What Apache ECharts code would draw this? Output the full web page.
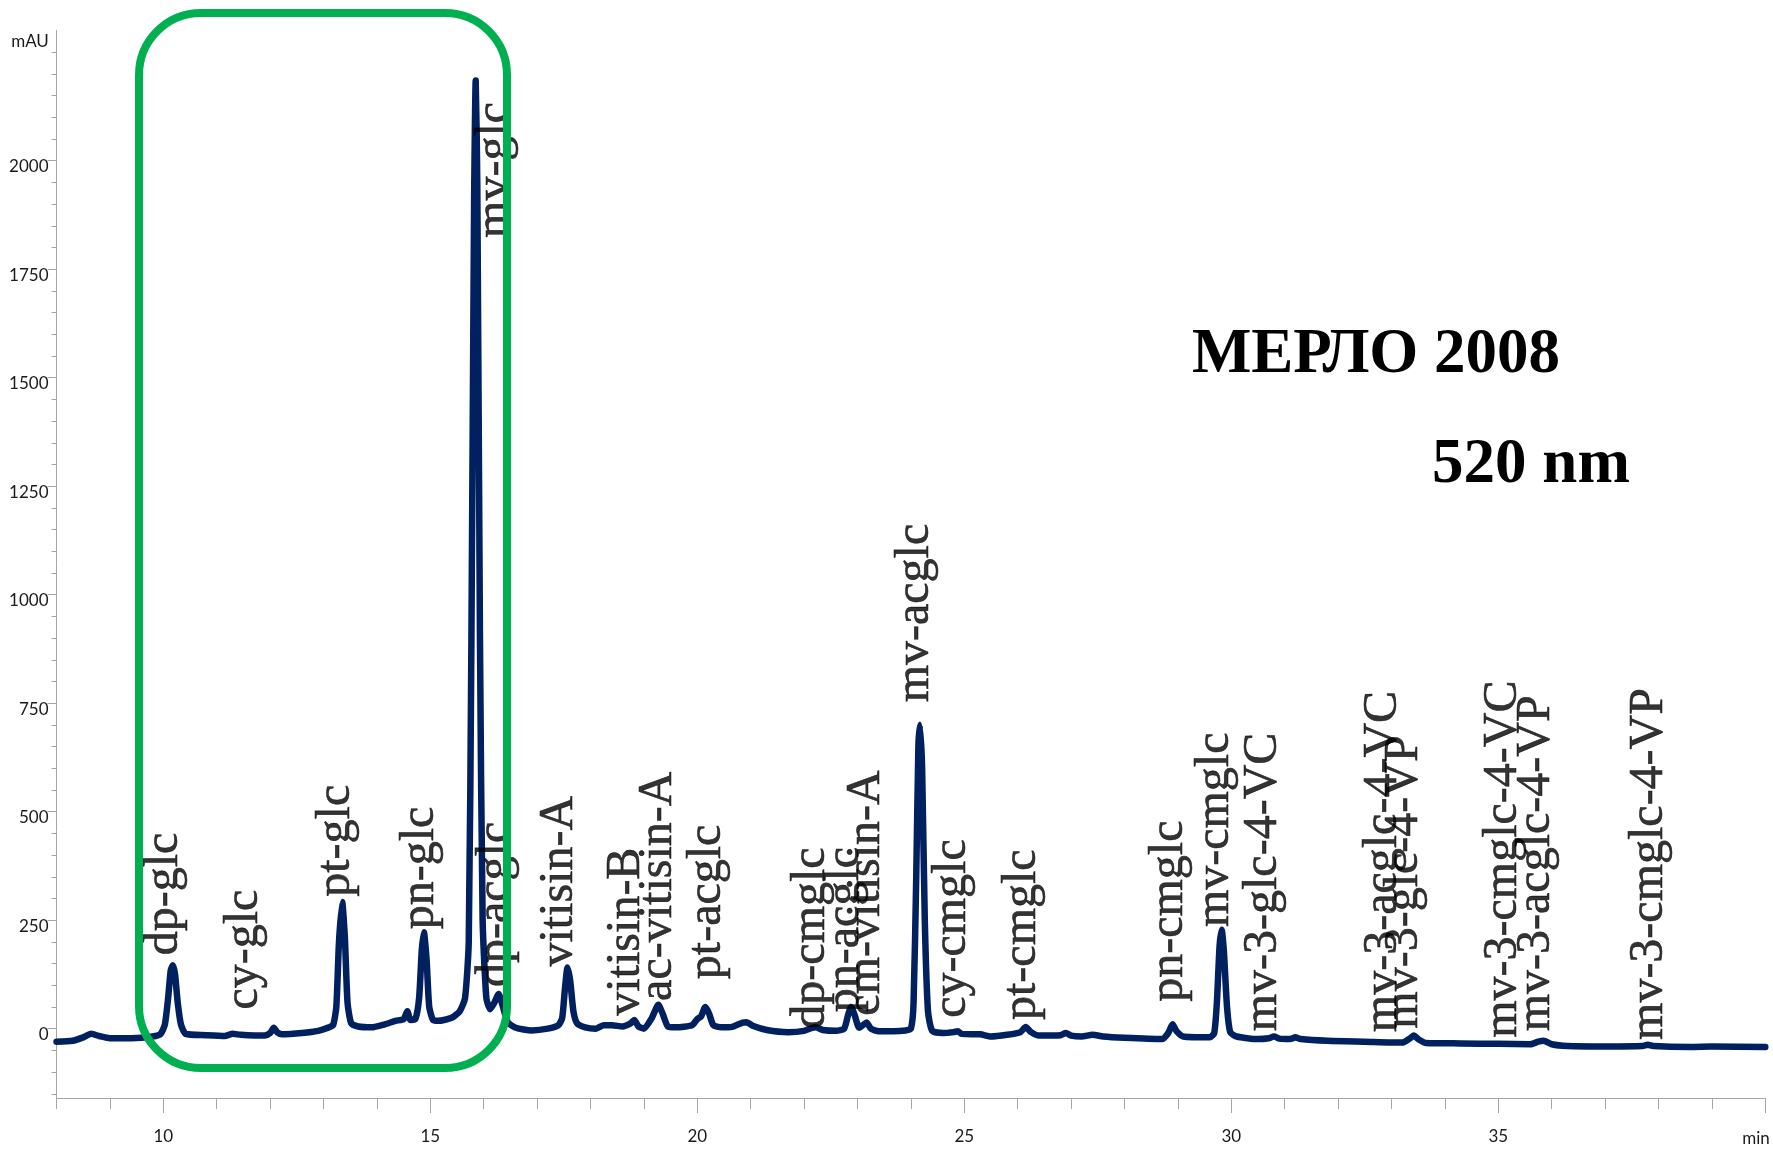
<!DOCTYPE html>
<html>
<head>
<meta charset="utf-8">
<script src="https://cdn.jsdelivr.net/npm/echarts@6/dist/echarts.min.js"></script>
<style>
html,body{margin:0;padding:0;background:#fff;}
#chart{width:1773px;height:1149px;}
</style>
</head>
<body>
<div id="chart"></div>
<script>
// Chromatogram trace: [retention time (min), signal (mAU)]
const chromatogram = [
  [8.00,-30],[8.30,-28],[8.50,-20],[8.65,-12],[8.80,-17],[9.00,-22],[9.40,-22],[9.80,-18],
  [9.95,-12],[10.03,10],[10.09,70],[10.14,135],[10.18,146],[10.22,125],[10.27,60],[10.33,10],[10.42,-12],
  [10.80,-15],[11.15,-17],[11.30,-12],[11.45,-14],[11.90,-16],[12.00,-10],[12.07,2],[12.13,-8],[12.22,-13],
  [12.60,-10],[12.90,-5],[13.10,3],
  [13.18,8],[13.24,50],[13.29,200],[13.35,292],[13.40,210],[13.45,60],[13.52,12],[13.65,5],[13.90,3],
  [14.15,10],[14.35,18],[14.50,22],[14.57,40],[14.63,20],
  [14.72,22],[14.79,70],[14.84,180],[14.88,222],[14.93,160],[14.98,50],[15.05,20],[15.15,18],[15.40,25],
  [15.55,40],[15.65,70],
  [15.72,200],[15.77,900],[15.82,1900],[15.85,2185],[15.88,1950],[15.93,900],[15.98,250],[16.05,70],[16.12,45],
  [16.20,60],[16.28,80],[16.35,55],[16.45,15],[16.60,2],[16.90,-4],[17.20,0],[17.40,8],
  [17.47,25],[17.52,90],[17.57,141],[17.62,110],[17.68,40],[17.75,12],[17.90,3],[18.10,0],[18.25,8],[18.40,8],
  [18.60,5],[18.75,12],[18.82,20],[18.90,5],[19.00,0],[19.15,25],[19.27,55],[19.35,35],[19.45,5],[19.60,3],
  [19.90,8],[20.00,22],[20.07,28],[20.15,50],[20.22,35],[20.30,8],[20.45,3],[20.65,4],[20.85,14],[20.92,15],
  [21.05,6],[21.30,-3],[21.70,-8],[22.00,-5],[22.15,2],[22.22,3],[22.35,-3],[22.60,-5],
  [22.75,0],[22.82,30],[22.88,50],[22.95,30],[23.03,2],[23.10,8],[23.17,14],[23.25,0],[23.40,-6],[23.90,-4],
  [24.00,0],[24.05,60],[24.10,350],[24.14,650],[24.17,700],[24.21,600],[24.26,250],[24.32,40],[24.40,-5],
  [24.60,-10],[24.80,-8],[24.88,-6],[24.95,-12],[25.30,-13],[25.50,-18],[25.80,-14],[26.05,-8],[26.15,4],
  [26.25,-8],[26.40,-16],[26.80,-15],[26.90,-10],[27.00,-16],[27.20,-18],[27.40,-14],[27.60,-18],[28.00,-21],
  [28.70,-24],[28.82,-10],[28.90,10],[28.97,-5],[29.10,-18],[29.60,-20],
  [29.68,-10],[29.73,60],[29.78,190],[29.82,228],[29.86,180],[29.92,50],[29.98,-8],[30.10,-18],[30.50,-24],
  [30.70,-22],[30.80,-18],[30.90,-23],[31.10,-24],[31.20,-20],[31.30,-24],[31.80,-28],[32.50,-30],[33.20,-32],
  [33.35,-22],[33.42,-16],[33.50,-24],[33.65,-33],[34.30,-34],[35.00,-35],[35.60,-36],[35.75,-30],[35.85,-28],
  [36.00,-36],[36.30,-40],[37.00,-41],[37.70,-40],[37.80,-37],[37.90,-40],[38.60,-42],[39.00,-41],[40.00,-42]
];

// Peak annotations: name, label anchor time (min), label foot (mAU)
const peakNames = ['dp-glc','cy-glc','pt-glc','pn-glc','mv-glc','dp-acglc','vitisin-A','vitisin-B','ac-vitisin-A',
  'pt-acglc','dp-cmglc','pn-acglc','cm-vitisin-A','mv-acglc','cy-cmglc','pt-cmglc','pn-cmglc','mv-cmglc',
  'mv-3-glc-4-VC','mv-3-acglc-4-VC','mv-3-glc-4-VP','mv-3-cmglc-4-VC','mv-3-acglc-4-VP','mv-3-cmglc-4-VP'];
const peakLabelTime = [10.02,11.52,13.24,14.82,16.22,16.24,17.42,18.67,19.28,20.19,22.14,22.78,23.16,24.08,
  24.78,26.09,28.84,29.71,30.60,32.84,33.24,35.10,35.72,37.83];
const peakLabelFoot = [169,44,304,229,1822,96,143,30,64,114,0,38,30,752,25,20,62,234,-6,-8,0,-21,-6,-26];

// Axis ticks
const yTickLabels = [0,250,500,750,1000,1250,1500,1750,2000];
const yMinorTicks = [-150,-100,-50,0,50,100,150,200,250,300,350,400,450,500,550,600,650,700,750,800,850,900,950,
  1000,1050,1100,1150,1200,1250,1300,1350,1400,1450,1500,1550,1600,1650,1700,1750,1800,1850,1900,1950,2000,
  2050,2100,2150,2200,2250];
const xTickLabels = [10,15,20,25,30,35];
const xMinorTicks = [8,9,10,11,12,13,14,15,16,17,18,19,20,21,22,23,24,25,26,27,28,29,30,31,32,33,34,35,36,37,38,39,40];
const xMajorTicks = [10,15,20,25,30,35,40];

const titleText = 'МЕРЛО 2008';
const subtitleText = '520 nm';
const yUnit = 'mAU';
const xUnit = 'min';

const X_MIN = 8, X_MAX = 40, Y_MIN = -160, Y_MAX = 2300;

const chart = echarts.init(document.getElementById('chart'), null, {renderer: 'canvas'});

const axisGray = '#a6a6a6';
const labelFont = {fontFamily: 'Lato', fontSize: 17, color: '#1a1a1a'};

const labelData = peakNames.map((n, i) => ({name: n, value: [peakLabelTime[i], peakLabelFoot[i]]}));

const option = {
  animation: false,
  backgroundColor: '#ffffff',
  grid: {left: 56.5, right: 7.7, top: 30.5, bottom: 50.9, containLabel: false},
  xAxis: [
    {
      type: 'value', min: X_MIN, max: X_MAX, position: 'bottom',
      axisLine: {show: true, onZero: false, lineStyle: {color: axisGray, width: 1}},
      axisTick: {show: true, length: 11, customValues: xMinorTicks, lineStyle: {color: axisGray}},
      axisLabel: {show: false},
      splitLine: {show: false}
    },
    {
      type: 'value', min: X_MIN, max: X_MAX, position: 'bottom',
      axisLine: {show: false, onZero: false},
      axisTick: {show: true, length: 15, customValues: xMajorTicks, lineStyle: {color: axisGray}},
      axisLabel: Object.assign({show: true, margin: 30, customValues: xTickLabels,
        formatter: v => String(v)}, labelFont),
      splitLine: {show: false}
    }
  ],
  yAxis: [
    {
      type: 'value', min: Y_MIN, max: Y_MAX, position: 'left',
      axisLine: {show: true, onZero: false, lineStyle: {color: axisGray, width: 1}},
      axisTick: {show: true, length: 5, customValues: yMinorTicks, lineStyle: {color: axisGray}},
      axisLabel: {show: false},
      splitLine: {show: false}
    },
    {
      type: 'value', min: Y_MIN, max: Y_MAX, position: 'left',
      axisLine: {show: false, onZero: false},
      axisTick: {show: true, length: 9, customValues: yTickLabels, lineStyle: {color: axisGray}},
      axisLabel: Object.assign({show: true, margin: 8, customValues: yTickLabels,
        formatter: v => String(v), verticalAlign: 'top', lineHeight: 12}, labelFont),
      splitLine: {show: false}
    }
  ],
  series: [
    {
      type: 'line',
      xAxisIndex: 0, yAxisIndex: 0,
      data: chromatogram,
      showSymbol: false,
      smooth: 0.2,
      lineStyle: {color: '#00205f', width: 6.5, join: 'round', cap: 'round'},
      z: 2
    },
    {
      type: 'scatter',
      xAxisIndex: 0, yAxisIndex: 0,
      data: labelData,
      symbolSize: 1,
      itemStyle: {color: 'rgba(0,0,0,0)'},
      silent: true,
      label: {
        show: true,
        formatter: '{b}',
        position: 'inside',
        rotate: 90,
        align: 'left',
        verticalAlign: 'middle',
        fontFamily: 'Liberation Serif',
        fontSize: 48,
        color: '#000000',
        textBorderColor: '#000000',
        textBorderWidth: 0.6
      },
      z: 3
    }
  ],
  graphic: [
    {
      type: 'rect', z: 100,
      shape: {x: 139, y: 13, width: 368, height: 1055, r: 62},
      style: {fill: 'none', stroke: '#00b050', lineWidth: 8}
    },
    {
      type: 'text', z: 100,
      style: {text: titleText, x: 1376, y: 356, textAlign: 'center', textVerticalAlign: 'middle',
        font: 'bold 63px "Liberation Serif"', fill: '#000'}
    },
    {
      type: 'text', z: 100,
      style: {text: subtitleText, x: 1531, y: 466, textAlign: 'center', textVerticalAlign: 'middle',
        font: 'bold 63px "Liberation Serif"', fill: '#000'}
    },
    {
      type: 'text', z: 100,
      style: {text: yUnit, x: 30, y: 42, textAlign: 'center', textVerticalAlign: 'middle',
        font: '17px Lato', fill: '#1a1a1a'}
    },
    {
      type: 'text', z: 100,
      style: {text: xUnit, x: 1756, y: 1139, textAlign: 'center', textVerticalAlign: 'middle',
        font: '17px Lato', fill: '#1a1a1a'}
    }
  ]
};
chart.setOption(option);
</script>
</body>
</html>
